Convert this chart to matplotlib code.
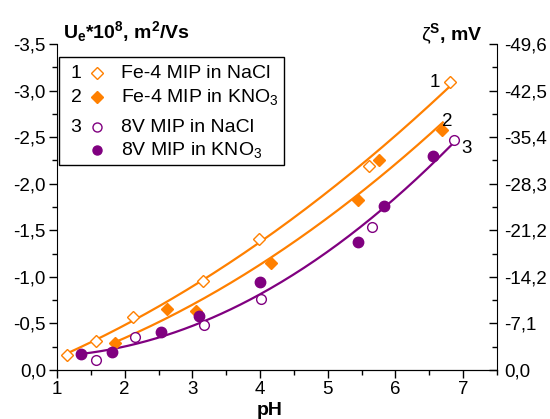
import matplotlib
matplotlib.use("Agg")
import matplotlib.pyplot as plt
import numpy as np
from matplotlib.ticker import MultipleLocator, FixedLocator
from matplotlib.patches import Rectangle

plt.rcParams['font.family'] = ['Liberation Sans', 'DejaVu Sans']
plt.rcParams['mathtext.fontset'] = 'custom'
plt.rcParams['mathtext.rm'] = 'Liberation Sans'
plt.rcParams['mathtext.it'] = 'Liberation Sans'
plt.rcParams['mathtext.bf'] = 'Liberation Sans:bold'

# data
ph_fe_nacl = [1.15, 1.57, 2.13, 3.16, 3.98, 5.61, 6.81]
u_fe_nacl = [-0.16, -0.31, -0.57, -0.96, -1.41, -2.19, -3.09]

ph_fe_kno3 = [1.86, 2.62, 3.05, 4.16, 5.45, 5.75, 6.69]
u_fe_kno3 = [-0.29, -0.66, -0.63, -1.15, -1.82, -2.25, -2.58]

ph_8v_nacl = [1.57, 2.15, 3.17, 4.01, 5.65, 6.86]
u_8v_nacl = [-0.11, -0.35, -0.48, -0.76, -1.54, -2.47]

ph_8v_kno3 = [1.36, 1.81, 2.54, 3.10, 4.00, 5.45, 5.83, 6.55]
u_8v_kno3 = [-0.17, -0.19, -0.41, -0.58, -0.94, -1.37, -1.76, -2.30]

# fitted curve ranges (pH)
fit_ranges = [(1.12, 6.78), (1.80, 6.70), (1.36, 6.86)]

left_ticks = [0.0, -0.5, -1.0, -1.5, -2.0, -2.5, -3.0, -3.5]
left_labels = ['0,0', '-0,5', '-1,0', '-1,5', '-2,0', '-2,5', '-3,0', '-3,5']
right_labels = ['0,0', '-7,1', '-14,2', '-21,2', '-28,3', '-35,4', '-42,5', '-49,6']

orange = '#ff8000'
purple = '#800080'
tick_fs = 13.5
leg_fs = 14
title_fs = 14

fig = plt.figure(figsize=(5.5, 4.19), dpi=100)
ax = fig.add_axes([57/550, 1-370/419, 440/550, 326/419])

# fitted curves
fit_sets = [
    (ph_fe_nacl, u_fe_nacl, orange),
    (ph_fe_kno3, u_fe_kno3, orange),
    (ph_8v_nacl + ph_8v_kno3, u_8v_nacl + u_8v_kno3, purple),
]
for (xs, ys, c), (x0, x1) in zip(fit_sets, fit_ranges):
    p = np.polyfit(xs, ys, 2)
    xx = np.linspace(x0, x1, 200)
    ax.plot(xx, np.polyval(p, xx), color=c, lw=1.6, zorder=2)

ax.plot(ph_fe_nacl, u_fe_nacl, 'D', ms=6.5, mfc='white', mec=orange, mew=1.0, ls='none', zorder=3)
ax.plot(ph_fe_kno3, u_fe_kno3, 'D', ms=6.5, mfc=orange, mec=orange, ls='none', zorder=3)
ax.plot(ph_8v_nacl, u_8v_nacl, 'o', ms=7, mfc='white', mec=purple, mew=1.0, ls='none', zorder=3)
ax.plot(ph_8v_kno3, u_8v_kno3, 'o', ms=7.5, mfc=purple, mec=purple, ls='none', zorder=3)

ax.set_xlim(1, 7.5)
ax.set_ylim(0, -3.5)
ax.xaxis.set_major_locator(MultipleLocator(1))
ax.xaxis.set_minor_locator(MultipleLocator(0.5))
ax.yaxis.set_major_locator(FixedLocator(left_ticks))
ax.yaxis.set_minor_locator(MultipleLocator(0.25))
ax.set_yticklabels(left_labels)
ax.spines['top'].set_visible(False)
ax.spines['right'].set_visible(False)
ax.tick_params(axis='both', which='major', direction='out', length=6, width=1, labelsize=tick_fs, pad=2)
ax.tick_params(axis='both', which='minor', direction='out', length=3.5, width=1)

ax2 = ax.twinx()
ax2.set_ylim(0, -3.5)
ax2.yaxis.set_major_locator(FixedLocator(left_ticks))
ax2.yaxis.set_minor_locator(MultipleLocator(0.25))
ax2.set_yticklabels(right_labels)
ax2.spines['top'].set_visible(False)
ax2.spines['left'].set_visible(False)
ax2.tick_params(axis='y', which='major', direction='in', length=6, width=1, labelsize=tick_fs, pad=5)
ax2.tick_params(axis='y', which='minor', direction='in', length=3.5, width=1)

# curve numbers
ax.text(6.58, -3.09, '1', fontsize=tick_fs, ha='center', va='center')
ax.text(6.77, -2.67, '2', fontsize=tick_fs, ha='center', va='center')
ax.text(7.05, -2.38, '3', fontsize=tick_fs, ha='center', va='center')

# axis titles
fig.text(63/550, 1-38/419, r'U$_\mathbf{e}$*10$^\mathbf{8}$, m$^\mathbf{2}$/Vs',
         fontsize=title_fs, fontweight='bold', ha='left', va='baseline')
fig.text(482/550, 1-40/419, r'$\zeta$$^\mathbf{S}$, mV',
         fontsize=title_fs, fontweight='bold', ha='right', va='baseline')
fig.text(270/550, 1-415/419, 'pH', fontsize=title_fs, fontweight='bold', ha='center', va='baseline')

# legend box
def px(x, y):
    return (x/550, 1-y/419)

fig.patches.append(Rectangle(px(59, 165), (284-59)/550, (165-57)/419, transform=fig.transFigure,
                             fill=True, fc='white', ec='black', lw=1, zorder=5))
rows = [
    ('1', 'D', 'white', orange, 'Fe-4 MIP in NaCl', 73),
    ('2', 'D', orange, orange, 'Fe-4 MIP in KNO$_3$', 97),
    ('3', 'o', 'white', purple, '8V MIP in NaCl', 127),
    ('', 'o', purple, purple, '8V MIP in KNO$_3$', 150),
]
for num, mk, fc, ec, lab, y in rows:
    fig.text(*px(76, y), num, fontsize=leg_fs, ha='center', va='center', zorder=6)
    fig.lines.append(plt.Line2D([97/550], [1-y/419], marker=mk, ms=6.5,
                                mfc=fc, mec=ec, mew=1.0, ls='none', transform=fig.transFigure, zorder=6))
    fig.text(*px(121, y), lab, fontsize=leg_fs, ha='left', va='center', zorder=6)

fig.savefig('out.png', dpi=100)
